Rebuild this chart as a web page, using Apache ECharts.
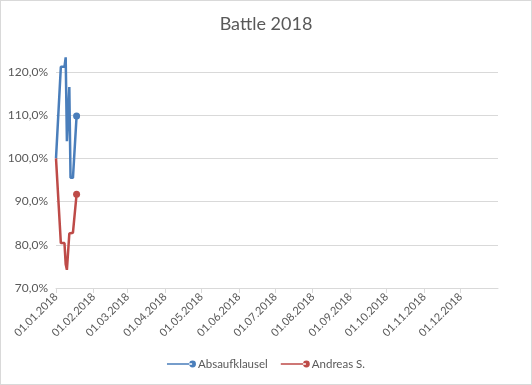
<!DOCTYPE html>
<html><head><meta charset="utf-8">
<script src="https://cdn.jsdelivr.net/npm/echarts@6/dist/echarts.min.js"></script>
<style>html,body{margin:0;padding:0;background:#fff}#c{width:532px;height:385px;box-sizing:border-box;border:1px solid #d9d9d9}</style>
</head><body><div id="c"></div>
<script>
const dates = ['2018-01-01','2018-01-05','2018-01-08','2018-01-09','2018-01-10','2018-01-12','2018-01-13','2018-01-15','2018-01-18'];
const absaufklausel = [1.00, 1.212, 1.212, 1.234, 1.04, 1.165, 0.955, 0.955, 1.098];
const andreas = [1.00, 0.804, 0.804, 0.755, 0.742, 0.826, 0.828, 0.828, 0.917];
const seriesNames = ['Absaufklausel', 'Andreas S.'];
const yTicks = [0.7, 0.8, 0.9, 1.0, 1.1, 1.2];

const font = 'Lato, "Open Sans", sans-serif';
const txt = '#595959';
const legendIcon = 'path://M0,2.6L26,2.6L26,4.4L0,4.4Z M23,3.5A3.5,3.5 0 1,0 30,3.5A3.5,3.5 0 1,0 23,3.5Z';
function pairs(vals){ return dates.map((d,i)=>[d, vals[i]]); }
function sym(v, p){ return p.dataIndex === dates.length-1 ? 7 : 0; }
const chart = echarts.init(document.getElementById('c'), null, {renderer:'canvas'});
chart.setOption({
  animation:false,
  textStyle:{fontFamily:font},
  title:{text:'Battle 2018', left:'center', top:9, textStyle:{fontFamily:font, fontSize:18, fontWeight:'normal', color:txt}},
  grid:{left:55, right:33, top:49.4, bottom:96, containLabel:false},
  legend:{bottom:9, left:'center', itemWidth:29, itemHeight:7, itemGap:13,
    icon:legendIcon,
    textStyle:{fontFamily:font, fontSize:11.5, color:txt, padding:[0,0,0,-3]}, data:seriesNames},
  xAxis:{type:'time', min:'2018-01-01', max:'2019-01-01',
    minInterval:28*86400000, maxInterval:31*86400000,
    axisLine:{lineStyle:{color:'#d9d9d9'}},
    axisTick:{show:true, length:5, lineStyle:{color:'#d9d9d9'}},
    splitLine:{show:false},
    axisLabel:{rotate:45, fontFamily:font, fontSize:11, color:txt, margin:7, showMaxLabel:false, hideOverlap:false,
      formatter:function(v){const d=new Date(v);const dd=String(d.getDate()).padStart(2,'0');const mm=String(d.getMonth()+1).padStart(2,'0');return dd+'.'+mm+'.'+d.getFullYear();}}
  },
  yAxis:{type:'value', min:yTicks[0], max:1.25, interval:0.1,
    axisLine:{show:false}, axisTick:{show:false},
    splitLine:{show:true, lineStyle:{color:['#d9d9d9','#d9d9d9','#d9d9d9','#d9d9d9','#d9d9d9','#d9d9d9','rgba(0,0,0,0)']}},
    axisLabel:{fontFamily:font, fontSize:12, color:txt, margin:8, showMaxLabel:false,
      formatter:function(v){return (v*100).toFixed(1).replace('.',',')+'%';}}
  },
  series:[
    {name:seriesNames[0], type:'line', data:pairs(absaufklausel), symbol:'circle', symbolSize:sym, showSymbol:true,
      itemStyle:{color:'#4a7ebb'}, lineStyle:{width:2.5, color:'#4a7ebb'}},
    {name:seriesNames[1], type:'line', data:pairs(andreas), symbol:'circle', symbolSize:sym, showSymbol:true,
      itemStyle:{color:'#be4b48'}, lineStyle:{width:2.5, color:'#be4b48'}}
  ]
});
</script></body></html>
